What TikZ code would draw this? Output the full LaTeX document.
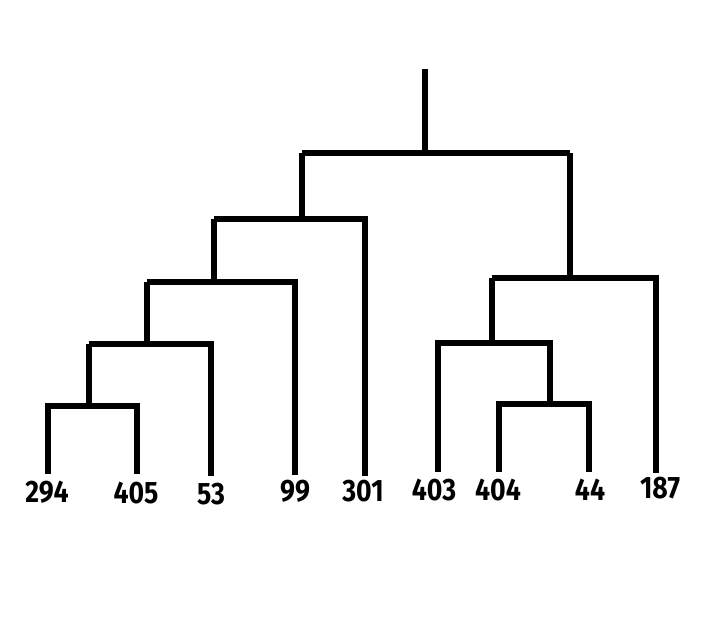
\documentclass[tikz,border=0pt]{standalone}
\usepackage{fontspec}
\setmainfont{Fira Sans}
\newcommand\leaflbl[1]{\scalebox{0.86}[1]{#1}}
\begin{document}
\begin{tikzpicture}[x=1pt,y=-1pt,
  branch/.style={line width=5.5pt,line join=miter,line cap=butt},
  leaf/.style={font=\fontsize{31}{31}\selectfont\bfseries,inner sep=0pt,anchor=center}]
\useasboundingbox (0,0) rectangle (701,625);
% root and internal junctions
\coordinate (top) at (425,69);
\coordinate (r) at (425,153);
\coordinate (a) at (302,219);
\coordinate (b) at (214,282);
\coordinate (c) at (147,344);
\coordinate (d) at (89,406);
\coordinate (e) at (570,278);
\coordinate (f) at (492,343);
\coordinate (g) at (550,404);
% leaves ends
\coordinate (l294) at (48,474);
\coordinate (l405) at (137,474);
\coordinate (l53) at (211,476);
\coordinate (l99) at (295,475);
\coordinate (l301) at (365,476);
\coordinate (l403) at (438,472);
\coordinate (l404) at (499,472);
\coordinate (l44) at (589,472);
\coordinate (l187) at (656,473);
% labels
\node[leaf] (t294) at (47,492) {\leaflbl{294}};
\node[leaf] (t405) at (136,493) {\leaflbl{405}};
\node[leaf] (t53) at (211,494) {\leaflbl{53}};
\node[leaf] (t99) at (295,491) {\leaflbl{99}};
\node[leaf] (t301) at (363,491) {\leaflbl{301}};
\node[leaf] (t403) at (434,490) {\leaflbl{403}};
\node[leaf] (t404) at (498,490) {\leaflbl{404}};
\node[leaf] (t44) at (590,490) {\leaflbl{44}};
\node[leaf] (t187) at (660,488) {\leaflbl{187}};
% tree
\draw[branch] (top) -- (r);
\draw[branch] (a |- r) -- (e |- r);
\draw[branch] (a |- r) -- (a);
\draw[branch] (e |- r) -- (e);
% left subtree
\draw[branch] (b |- a) -- (l301 |- a) -- (l301);
\draw[branch] (b |- a) -- (b);
\draw[branch] (c |- b) -- (l99 |- b) -- (l99);
\draw[branch] (c |- b) -- (c);
\draw[branch] (d |- c) -- (l53 |- c) -- (l53);
\draw[branch] (d |- c) -- (d);
\draw[branch] (l294) -- (l294 |- d) -- (l405 |- d) -- (l405);
% right subtree
\draw[branch] (f |- e) -- (l187 |- e) -- (l187);
\draw[branch] (f |- e) -- (f);
\draw[branch] (l403) -- (l403 |- f) -- (g |- f) -- (g);
\draw[branch] (l404) -- (l404 |- g) -- (l44 |- g) -- (l44);
\end{tikzpicture}
\end{document}
